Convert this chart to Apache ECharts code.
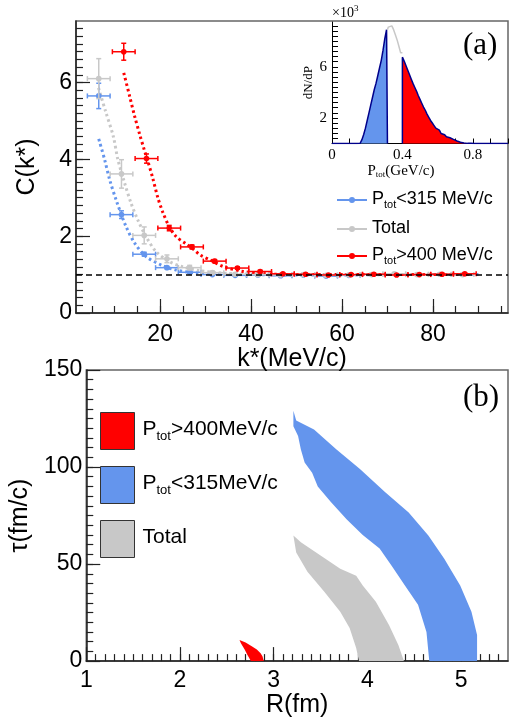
<!DOCTYPE html>
<html>
<head>
<meta charset="utf-8">
<script src="https://cdn.jsdelivr.net/npm/echarts@6/dist/echarts.min.js"></script>
<style>
html, body { margin: 0; padding: 0; background: #fff; }
#main { width: 510px; height: 719px; }
</style>
</head>
<body>
<div id="main"></div>
<script>
// (a) correlation function C(k*) for the two P_tot cuts and the total
var kHalf = 2.5;
var kBlue = [6.5, 11.5, 16.5, 21.5, 26.5, 31.5, 36.5, 41.5, 46.5, 51.5, 56.5, 61.5];
var cBlue = [5.65, 2.56, 1.53, 1.18, 1.06, 1.00, 0.98, 0.99, 0.97, 0.99, 0.96, 0.98];
var eBlue = [0.33, 0.10, 0.05, 0.03, 0.02, 0.02, 0.02, 0.02, 0.02, 0.02, 0.02, 0.02];
var kGray = [6.5, 11.5, 16.5, 21.5, 26.5, 31.5, 36.5, 41.5, 46.5, 51.5, 56.5, 61.5, 66.5, 71.5, 76.5, 81.5, 86.5];
var cGray = [6.1, 3.62, 2.02, 1.41, 1.18, 1.05, 1.01, 1.00, 0.99, 1.00, 0.98, 0.99, 1.00, 1.02, 1.00, 1.01, 1.00];
var eGray = [0.52, 0.37, 0.22, 0.10, 0.06, 0.04, 0.03, 0.03, 0.03, 0.03, 0.03, 0.03, 0.03, 0.03, 0.03, 0.03, 0.03];
var kRed = [12, 17, 22, 27, 32, 37, 42, 47, 52, 57, 62, 67, 72, 77, 82, 87];
var cRed = [6.8, 4.02, 2.21, 1.72, 1.35, 1.17, 1.08, 1.02, 1.01, 0.99, 1.00, 1.01, 0.99, 1.00, 1.01, 1.02];
var eRed = [0.22, 0.12, 0.07, 0.05, 0.04, 0.03, 0.03, 0.02, 0.02, 0.02, 0.02, 0.02, 0.02, 0.02, 0.02, 0.02];

// fitted curves (dotted)
var fitBlueK = [6.5, 7.8, 8.9, 10.3, 12.5, 14.4, 16.9, 20.6, 23.5, 27.2, 32, 40, 50, 60, 70, 80, 90];
var fitBlueC = [4.53, 3.99, 3.47, 2.95, 2.25, 1.82, 1.47, 1.23, 1.12, 1.05, 1.02, 1.0, 0.99, 0.99, 1.0, 1.0, 1.0];
var fitGrayK = [6.45, 8, 9.7, 10.7, 12.2, 13.6, 15.1, 16.9, 19.1, 22, 25, 28.8, 35, 45, 60, 75, 88];
var fitGrayC = [5.86, 5.25, 4.6, 4.0, 3.38, 2.86, 2.42, 1.99, 1.60, 1.34, 1.2, 1.1, 1.03, 1.0, 1.0, 1.0, 1.0];
var fitRedK = [12, 13.3, 14.4, 15.5, 16.5, 17.3, 18.4, 19.5, 20.6, 22, 23.5, 25.7, 27.5, 28.8, 31, 33.9, 38.3, 43.4, 50, 60, 75, 88];
var fitRedC = [6.25, 5.64, 5.12, 4.65, 4.25, 3.95, 3.5, 3.0, 2.62, 2.25, 1.99, 1.80, 1.64, 1.51, 1.38, 1.21, 1.08, 1.02, 1.0, 1.0, 1.0, 1.0];

// inset: dN/dP (x10^3), 0.01 GeV/c bins starting at pLo
var pLo = 0.15, pBin = 0.01, nBins = 100;
var dndp = [0.02, 0.1, 0.3, 0.7, 1.2, 1.8, 2.4, 3.0, 3.6, 4.2, 4.7, 5.3, 5.9, 6.5, 7.3, 8.2, 8.9,
  9.1, 9.2, 9.15, 8.9, 8.5, 8.1, 7.6, 7.1,
  6.75, 6.45, 6.1, 5.75, 5.4, 5.05, 4.7, 4.4, 4.1, 3.75, 3.45, 3.15, 2.85, 2.6, 2.3, 2.05, 1.8, 1.6,
  1.4, 1.2, 1.05, 0.9, 0.78, 0.68, 0.6, 0.52, 0.45, 0.38, 0.32, 0.26, 0.2, 0.15, 0.1, 0.07, 0.04,
  0.02, 0.01, 0.01, 0.01, 0.005, 0.005];
var blueCut = 0.315, redCut = 0.40;

// (b) allowed regions in (R, tau)
var regRed = [[2.635, 10.9], [2.65, 9.2], [2.69, 6], [2.72, 3.2], [2.757, 0], [2.895, 0], [2.88, 2.5], [2.86, 4.1], [2.82, 6], [2.77, 7.5], [2.7, 9.6]];
var regBlue = [[3.21, 129], [3.21, 121], [3.26, 116], [3.29, 109], [3.33, 102.4], [3.41, 97], [3.47, 90], [3.61, 82], [3.78, 73],
  [3.95, 65], [4.13, 58], [4.26, 49], [4.40, 39], [4.54, 29], [4.63, 15], [4.66, 0],
  [5.17, 0], [5.17, 13.5], [5.11, 25.4], [4.99, 39], [4.82, 52.7], [4.65, 64.7], [4.44, 76.6], [4.19, 87],
  [3.92, 99], [3.67, 109], [3.43, 119.3], [3.24, 124]];
var regGray = [[3.21, 64.7], [3.24, 56], [3.36, 46], [3.54, 35.7], [3.71, 25.4], [3.81, 17], [3.88, 6.7], [3.91, 0],
  [4.39, 0], [4.33, 8.3], [4.23, 18.6], [4.09, 30.6], [3.95, 39], [3.88, 44], [3.71, 47.6], [3.50, 54.4], [3.29, 61.3]];

var SANS = 'Liberation Sans';
var SERIF = 'Liberation Serif';
var BLUE = '#6495ed', GRAY = '#c8c8c8', RED = '#ff0000', NAVY = '#00008b';

function zip(a, b) { return a.map(function (v, i) { return [v, b[i]]; }); }
function pts(k, c, e) { return k.map(function (v, i) { return [v, c[i], kHalf, e[i]]; }); }
function steps(a, b, d) { var r = []; for (var v = a; v <= b + 1e-9; v += d) r.push(+v.toFixed(3)); return r; }

// split the histogram into the three P_tot ranges
function binVal(i) {
  var j = i - Math.round(pLo / pBin);
  return (j >= 0 && j < dndp.length) ? dndp[j] : 0;
}
var blueHist = [], grayHist = [], redHist = [];
for (var i = 0; i < nBins; i++) {
  var e = +(i * pBin).toFixed(3), v = binVal(i);
  if (e < blueCut) blueHist.push([e, v]);
  else if (e < redCut) grayHist.push([e, v]);
  else redHist.push([e, v]);
}
var vAtBlue = blueHist[blueHist.length - 1][1];
blueHist.push([blueCut, vAtBlue], [blueCut, 0]);
grayHist.unshift([blueCut, vAtBlue]);
grayHist.push([redCut, grayHist[grayHist.length - 1][1]]);
redHist.unshift([redCut, 0]);
redHist.push([1.0, redHist[redHist.length - 1][1]]);

var myChart = echarts.init(document.getElementById('main'));

function errBars(color) {
  return function (params, api) {
    var x = api.value(0), y = api.value(1), ex = api.value(2), ey = api.value(3);
    var c = api.coord([x, y]);
    var xl = api.coord([x - ex, y])[0], xr = api.coord([x + ex, y])[0];
    var yt = api.coord([x, y + ey])[1], yb = api.coord([x, y - ey])[1];
    var st = { stroke: color, lineWidth: 1.5 };
    var cap = 2.5;
    return {
      type: 'group',
      children: [
        { type: 'line', shape: { x1: xl, y1: c[1], x2: xr, y2: c[1] }, style: st },
        { type: 'line', shape: { x1: c[0], y1: yt, x2: c[0], y2: yb }, style: st },
        { type: 'line', shape: { x1: xl, y1: c[1] - cap, x2: xl, y2: c[1] + cap }, style: st },
        { type: 'line', shape: { x1: xr, y1: c[1] - cap, x2: xr, y2: c[1] + cap }, style: st },
        { type: 'line', shape: { x1: c[0] - cap, y1: yt, x2: c[0] + cap, y2: yt }, style: st },
        { type: 'line', shape: { x1: c[0] - cap, y1: yb, x2: c[0] + cap, y2: yb }, style: st },
        { type: 'circle', shape: { cx: c[0], cy: c[1], r: 2.8 }, style: { fill: color } }
      ]
    };
  };
}

function region(list, color) {
  return function (params, api) {
    if (params.dataIndex !== 0) return null;
    return {
      type: 'polygon',
      shape: { points: list.map(function (d) { return api.coord(d); }) },
      style: { fill: color }
    };
  };
}

var axisLine = { lineStyle: { color: '#222', width: 1.5 } };
var tickStyle = { color: '#222', width: 1.2 };

function major(grid, min, max, vals, name, gap, extra) {
  var ax = {
    gridIndex: grid, type: 'value', min: min, max: max,
    axisLine: axisLine,
    axisTick: { inside: true, length: 14, customValues: vals, lineStyle: tickStyle },
    axisLabel: { customValues: vals, fontSize: 23, fontFamily: SANS, color: '#000' },
    splitLine: { show: false },
    name: name, nameLocation: 'middle', nameGap: gap,
    nameTextStyle: { fontSize: 25, fontFamily: SANS, color: '#000' }
  };
  for (var key in extra) ax[key] = extra[key];
  return ax;
}
function minor(grid, min, max, vals, len, extra) {
  var ax = {
    gridIndex: grid, type: 'value', min: min, max: max,
    axisLine: { show: false },
    axisTick: { inside: true, length: len, customValues: vals, lineStyle: tickStyle },
    axisLabel: { show: false },
    splitLine: { show: false }
  };
  for (var key in extra) ax[key] = extra[key];
  return ax;
}

var legendIcon = 'path://M0,3L30,3L30,5L0,5Z M12,4A3,3 0 1 1 18,4A3,3 0 1 1 12,4Z';
function ptotLabel(name) {
  var m = name.match(/^Ptot(.*)$/);
  return m ? '{m|P}{s|tot}{m|' + m[1] + '}' : '{m|' + name + '}';
}

option = {
  animation: false,
  backgroundColor: '#fff',
  grid: [
    { left: 76, top: 21, width: 432, height: 292, show: true, borderColor: '#666', borderWidth: 1.5 },
    { left: 76, top: 370, width: 432, height: 293, show: true, borderColor: '#666', borderWidth: 1.5 },
    { left: 332, top: 22, width: 176, height: 121.5 }
  ],
  xAxis: [
    major(0, 1.5, 96.5, [20, 40, 60, 80], 'k*(MeV/c)', 30, { position: 'bottom', axisLabel: { customValues: [20, 40, 60, 80], fontSize: 23, fontFamily: SANS, color: '#000', margin: 10 } }),
    minor(0, 1.5, 96.5, steps(5, 95, 5), 7, { position: 'bottom' }),
    major(1, 1, 5.5, [1, 2, 3, 4, 5], 'R(fm)', 30, { position: 'bottom', axisLabel: { customValues: [1, 2, 3, 4, 5], fontSize: 23, fontFamily: SANS, color: '#000', margin: 8 } }),
    minor(1, 1, 5.5, steps(1.1, 5.4, 0.1), 7, { position: 'bottom' }),
    {
      gridIndex: 2, type: 'value', min: 0, max: 1, position: 'bottom',
      axisLine: { lineStyle: { color: '#000', width: 1 } },
      axisTick: { inside: true, length: 5, customValues: steps(0, 1, 0.1), lineStyle: { color: '#000' } },
      axisLabel: { customValues: [0, 0.4, 0.8], fontSize: 15, fontFamily: SERIF, color: '#000', margin: 4 },
      splitLine: { show: false },
      name: '{m|P}{s|tot}{m|(GeV/c)}', nameLocation: 'middle', nameGap: 18,
      nameTextStyle: {
        padding: [0, 38, 0, 0],
        rich: {
          m: { fontSize: 15, fontFamily: SERIF, color: '#000', lineHeight: 16, verticalAlign: 'top' },
          s: { fontSize: 9, fontFamily: SERIF, color: '#000', lineHeight: 9, verticalAlign: 'bottom' }
        }
      }
    }
  ],
  yAxis: [
    major(0, 0, 7.6, [0, 2, 4, 6], 'C(k*)', 36, { position: 'left', axisLabel: { customValues: [0, 2, 4, 6], fontSize: 23, fontFamily: SANS, color: '#000', margin: 4 } }),
    minor(0, 0, 7.6, steps(0.2, 7.4, 0.2), 7, { position: 'left' }),
    major(1, 0, 150, [0, 50, 100, 150], 'τ(fm/c)', 48, { position: 'left', axisLabel: { customValues: [0, 50, 100, 150], fontSize: 23, fontFamily: SANS, color: '#000', margin: 4 } }),
    minor(1, 0, 150, steps(5, 145, 5), 7, { position: 'left' }),
    {
      gridIndex: 2, type: 'value', min: 0, max: 9.5, position: 'left',
      axisLine: { lineStyle: { color: '#000', width: 1 } },
      axisTick: { inside: true, length: 6, customValues: steps(0.4, 9.2, 0.4), lineStyle: { color: '#000' } },
      axisLabel: { customValues: [2, 6], fontSize: 15, fontFamily: SERIF, color: '#000', margin: 5 },
      splitLine: { show: false },
      name: 'dN/dP', nameLocation: 'middle', nameGap: 17,
      nameTextStyle: { fontSize: 13, fontFamily: SERIF, color: '#000' }
    }
  ],
  legend: [
    {
      orient: 'vertical', left: 337, top: 190, padding: 0, itemWidth: 30, itemHeight: 7, itemGap: 9,
      selectedMode: false,
      data: [
        { name: 'Ptot<315 MeV/c', icon: legendIcon },
        { name: 'Total', icon: legendIcon },
        { name: 'Ptot>400 MeV/c', icon: legendIcon }
      ],
      formatter: ptotLabel,
      textStyle: {
        rich: {
          m: { fontSize: 18, fontFamily: SANS, color: '#000', lineHeight: 20, verticalAlign: 'top' },
          s: { fontSize: 11, fontFamily: SANS, color: '#000', lineHeight: 11, verticalAlign: 'bottom' }
        }
      }
    },
    {
      orient: 'vertical', left: 100, top: 412, padding: 0, itemWidth: 34, itemHeight: 37, itemGap: 16,
      selectedMode: false, icon: 'rect',
      itemStyle: { borderColor: '#333', borderWidth: 1 },
      data: ['Ptot>400MeV/c', 'Ptot<315MeV/c', 'Total '],
      formatter: function (name) { return ptotLabel(name.trim()); },
      textStyle: {
        padding: [0, 0, 0, 3],
        rich: {
          m: { fontSize: 21, fontFamily: SANS, color: '#000', lineHeight: 24, verticalAlign: 'top' },
          s: { fontSize: 13, fontFamily: SANS, color: '#000', lineHeight: 13, verticalAlign: 'bottom' }
        }
      }
    }
  ],
  graphic: [
    { type: 'text', left: 463, top: 30, style: { text: '(a)', fontSize: 31, fontFamily: SERIF, fill: '#000' } },
    { type: 'text', left: 463, top: 382, style: { text: '(b)', fontSize: 31, fontFamily: SERIF, fill: '#000' } },
    {
      type: 'text', left: 332, top: 4,
      style: {
        text: '{a|×10}{b|3}',
        rich: {
          a: { fontSize: 14, fontFamily: SERIF, fill: '#000', lineHeight: 16, verticalAlign: 'bottom' },
          b: { fontSize: 9, fontFamily: SERIF, fill: '#000', lineHeight: 9, verticalAlign: 'top' }
        }
      }
    }
  ],
  series: [
    // fits
    {
      type: 'line', xAxisIndex: 0, yAxisIndex: 0, data: zip(fitBlueK, fitBlueC), smooth: 0.3,
      showSymbol: false, lineStyle: { color: BLUE, width: 3, type: [2.5, 3] }, z: 2,
      markLine: {
        silent: true, symbol: ['none', 'none'], label: { show: false },
        lineStyle: { color: '#000', width: 1.5, type: [6, 4] },
        data: [{ yAxis: 1 }]
      }
    },
    { type: 'line', xAxisIndex: 0, yAxisIndex: 0, data: zip(fitGrayK, fitGrayC), smooth: 0.3, showSymbol: false, lineStyle: { color: GRAY, width: 3, type: [2.5, 3] }, z: 2 },
    { type: 'line', xAxisIndex: 0, yAxisIndex: 0, data: zip(fitRedK, fitRedC), smooth: 0.3, showSymbol: false, lineStyle: { color: RED, width: 3, type: [2.5, 3] }, z: 2 },
    // measured points
    { name: 'Ptot<315 MeV/c', type: 'custom', xAxisIndex: 0, yAxisIndex: 0, data: pts(kBlue, cBlue, eBlue), renderItem: errBars(BLUE), encode: { x: 0, y: 1 }, itemStyle: { color: BLUE }, z: 3 },
    { name: 'Total', type: 'custom', xAxisIndex: 0, yAxisIndex: 0, data: pts(kGray, cGray, eGray), renderItem: errBars(GRAY), encode: { x: 0, y: 1 }, itemStyle: { color: GRAY }, z: 3 },
    { name: 'Ptot>400 MeV/c', type: 'custom', xAxisIndex: 0, yAxisIndex: 0, data: pts(kRed, cRed, eRed), renderItem: errBars(RED), encode: { x: 0, y: 1 }, itemStyle: { color: RED }, z: 4 },
    // inset histogram
    { type: 'line', xAxisIndex: 4, yAxisIndex: 4, data: blueHist, step: 'end', showSymbol: false, lineStyle: { color: NAVY, width: 1.5 }, areaStyle: { color: BLUE, opacity: 1 } },
    { type: 'line', xAxisIndex: 4, yAxisIndex: 4, data: grayHist, step: 'end', showSymbol: false, lineStyle: { color: GRAY, width: 1.5 } },
    { type: 'line', xAxisIndex: 4, yAxisIndex: 4, data: redHist, step: 'end', showSymbol: false, lineStyle: { color: NAVY, width: 1.5 }, areaStyle: { color: RED, opacity: 1 } },
    // (b) regions
    { name: 'Ptot>400MeV/c', type: 'custom', xAxisIndex: 2, yAxisIndex: 2, data: regRed, renderItem: region(regRed, RED), encode: { x: 0, y: 1 }, itemStyle: { color: RED }, clip: true },
    { name: 'Ptot<315MeV/c', type: 'custom', xAxisIndex: 2, yAxisIndex: 2, data: regBlue, renderItem: region(regBlue, BLUE), encode: { x: 0, y: 1 }, itemStyle: { color: BLUE }, clip: true },
    { name: 'Total ', type: 'custom', xAxisIndex: 2, yAxisIndex: 2, data: regGray, renderItem: region(regGray, GRAY), encode: { x: 0, y: 1 }, itemStyle: { color: GRAY }, clip: true }
  ]
};

myChart.setOption(option);
window.addEventListener('resize', function () {
  myChart.resize();
});
</script>
</body>
</html>
